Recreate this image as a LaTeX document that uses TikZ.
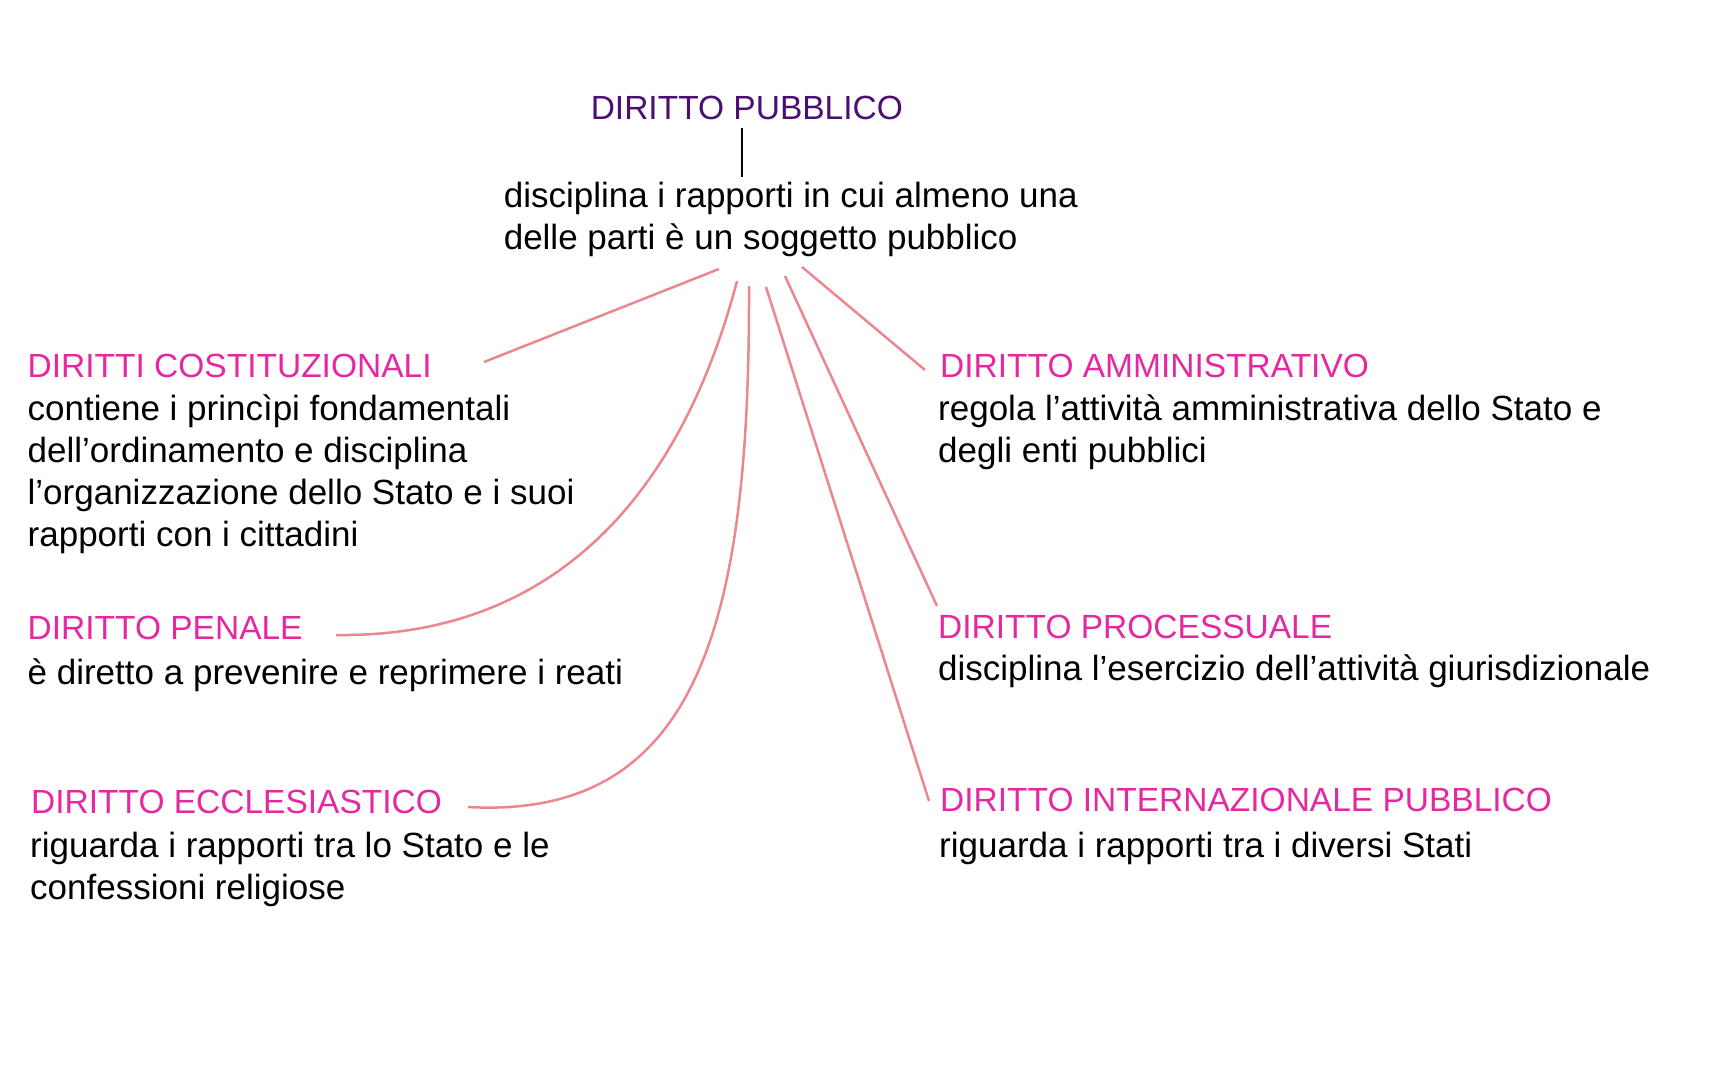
\documentclass[tikz,border=0pt]{standalone}
\usepackage{fontspec}
\setmainfont{Liberation Sans}
\definecolor{pubviola}{RGB}{75,15,115}
\definecolor{ramorosa}{RGB}{230,40,160}
\definecolor{ramolinea}{RGB}{236,134,143}
\tikzset{
	ramo/.style={anchor=base west, inner sep=0pt, text=ramorosa, font=\fontsize{33.5}{40}\selectfont},
	testo/.style={anchor=base west, inner sep=0pt, align=left, font=\fontsize{35}{42}\selectfont},
	filo/.style={line width=2.5pt, color=ramolinea},
}

\begin{document}
\begin{tikzpicture}[x=1pt, y=-1pt]
			%%%%% START %%%%%
			
			\useasboundingbox (0, 0) rectangle (1728, 1080);
			
			% base of a text with more lines = its last line
			\node[ramo, text=pubviola] (pub) at (590.6, 119.5) {DIRITTO PUBBLICO};
			\node[testo] (defin) at (503.6, 249) {disciplina i rapporti in cui almeno una\\delle parti è un soggetto pubblico};
			\draw[line width=2.5pt, shorten <=8pt, shorten >=4pt] ([xshift=-5pt]pub.south) -- ([xshift=-5pt]pub.south |- defin.north);
			
			\node[ramo] (costit) at (27.5, 377) {DIRITTI COSTITUZIONALI};
			\node[testo] (costitdef) at (27.5, 546) {contiene i princìpi fondamentali\\dell’ordinamento e disciplina\\l’organizzazione dello Stato e i suoi\\rapporti con i cittadini};
			
			\node[ramo] (penale) at (27.5, 639) {DIRITTO PENALE};
			\node[testo] (penaledef) at (27.5, 684) {è diretto a prevenire e reprimere i reati};
			
			\node[ramo] (eccl) at (31, 813) {DIRITTO ECCLESIASTICO};
			\node[testo] (eccldef) at (30, 899) {riguarda i rapporti tra lo Stato e le\\confessioni religiose};
			
			\node[ramo] (ammin) at (940, 377) {DIRITTO AMMINISTRATIVO};
			\node[testo] (ammindef) at (938, 462) {regola l’attività amministrativa dello Stato e\\degli enti pubblici};
			
			\node[ramo] (proc) at (938, 638) {DIRITTO PROCESSUALE};
			\node[testo] (procdef) at (938, 680) {disciplina l’esercizio dell’attività giurisdizionale};
			
			\node[ramo] (intern) at (940, 811) {DIRITTO INTERNAZIONALE PUBBLICO};
			\node[testo] (interndef) at (939, 857) {riguarda i rapporti tra i diversi Stati};
			
			\coordinate (f1) at (719, 269);
			\coordinate (f2) at (737, 281);
			\coordinate (f3) at (749, 286);
			\coordinate (f4) at (766, 287);
			\coordinate (f5) at (785, 276);
			\coordinate (f6) at (802, 267);
			
			\coordinate (e1) at (484, 362);
			\coordinate (e2) at (336, 635);
			\coordinate (e3) at (468, 807);
			\coordinate (e4) at (929, 801);
			\coordinate (e5) at (937, 606);
			\coordinate (e6) at (925, 370);
			
			\draw[filo] (f1) -- (e1);
			\draw[filo] (f2) .. controls (690, 460) and (580, 638) .. (e2);
			\draw[filo] (f3) .. controls (750, 620) and (700, 820) .. (e3);
			\draw[filo] (f4) -- (e4);
			\draw[filo] (f5) -- (e5);
			\draw[filo] (f6) -- (e6);
			
			%%%%% END %%%%%
\end{tikzpicture}
\end{document}
